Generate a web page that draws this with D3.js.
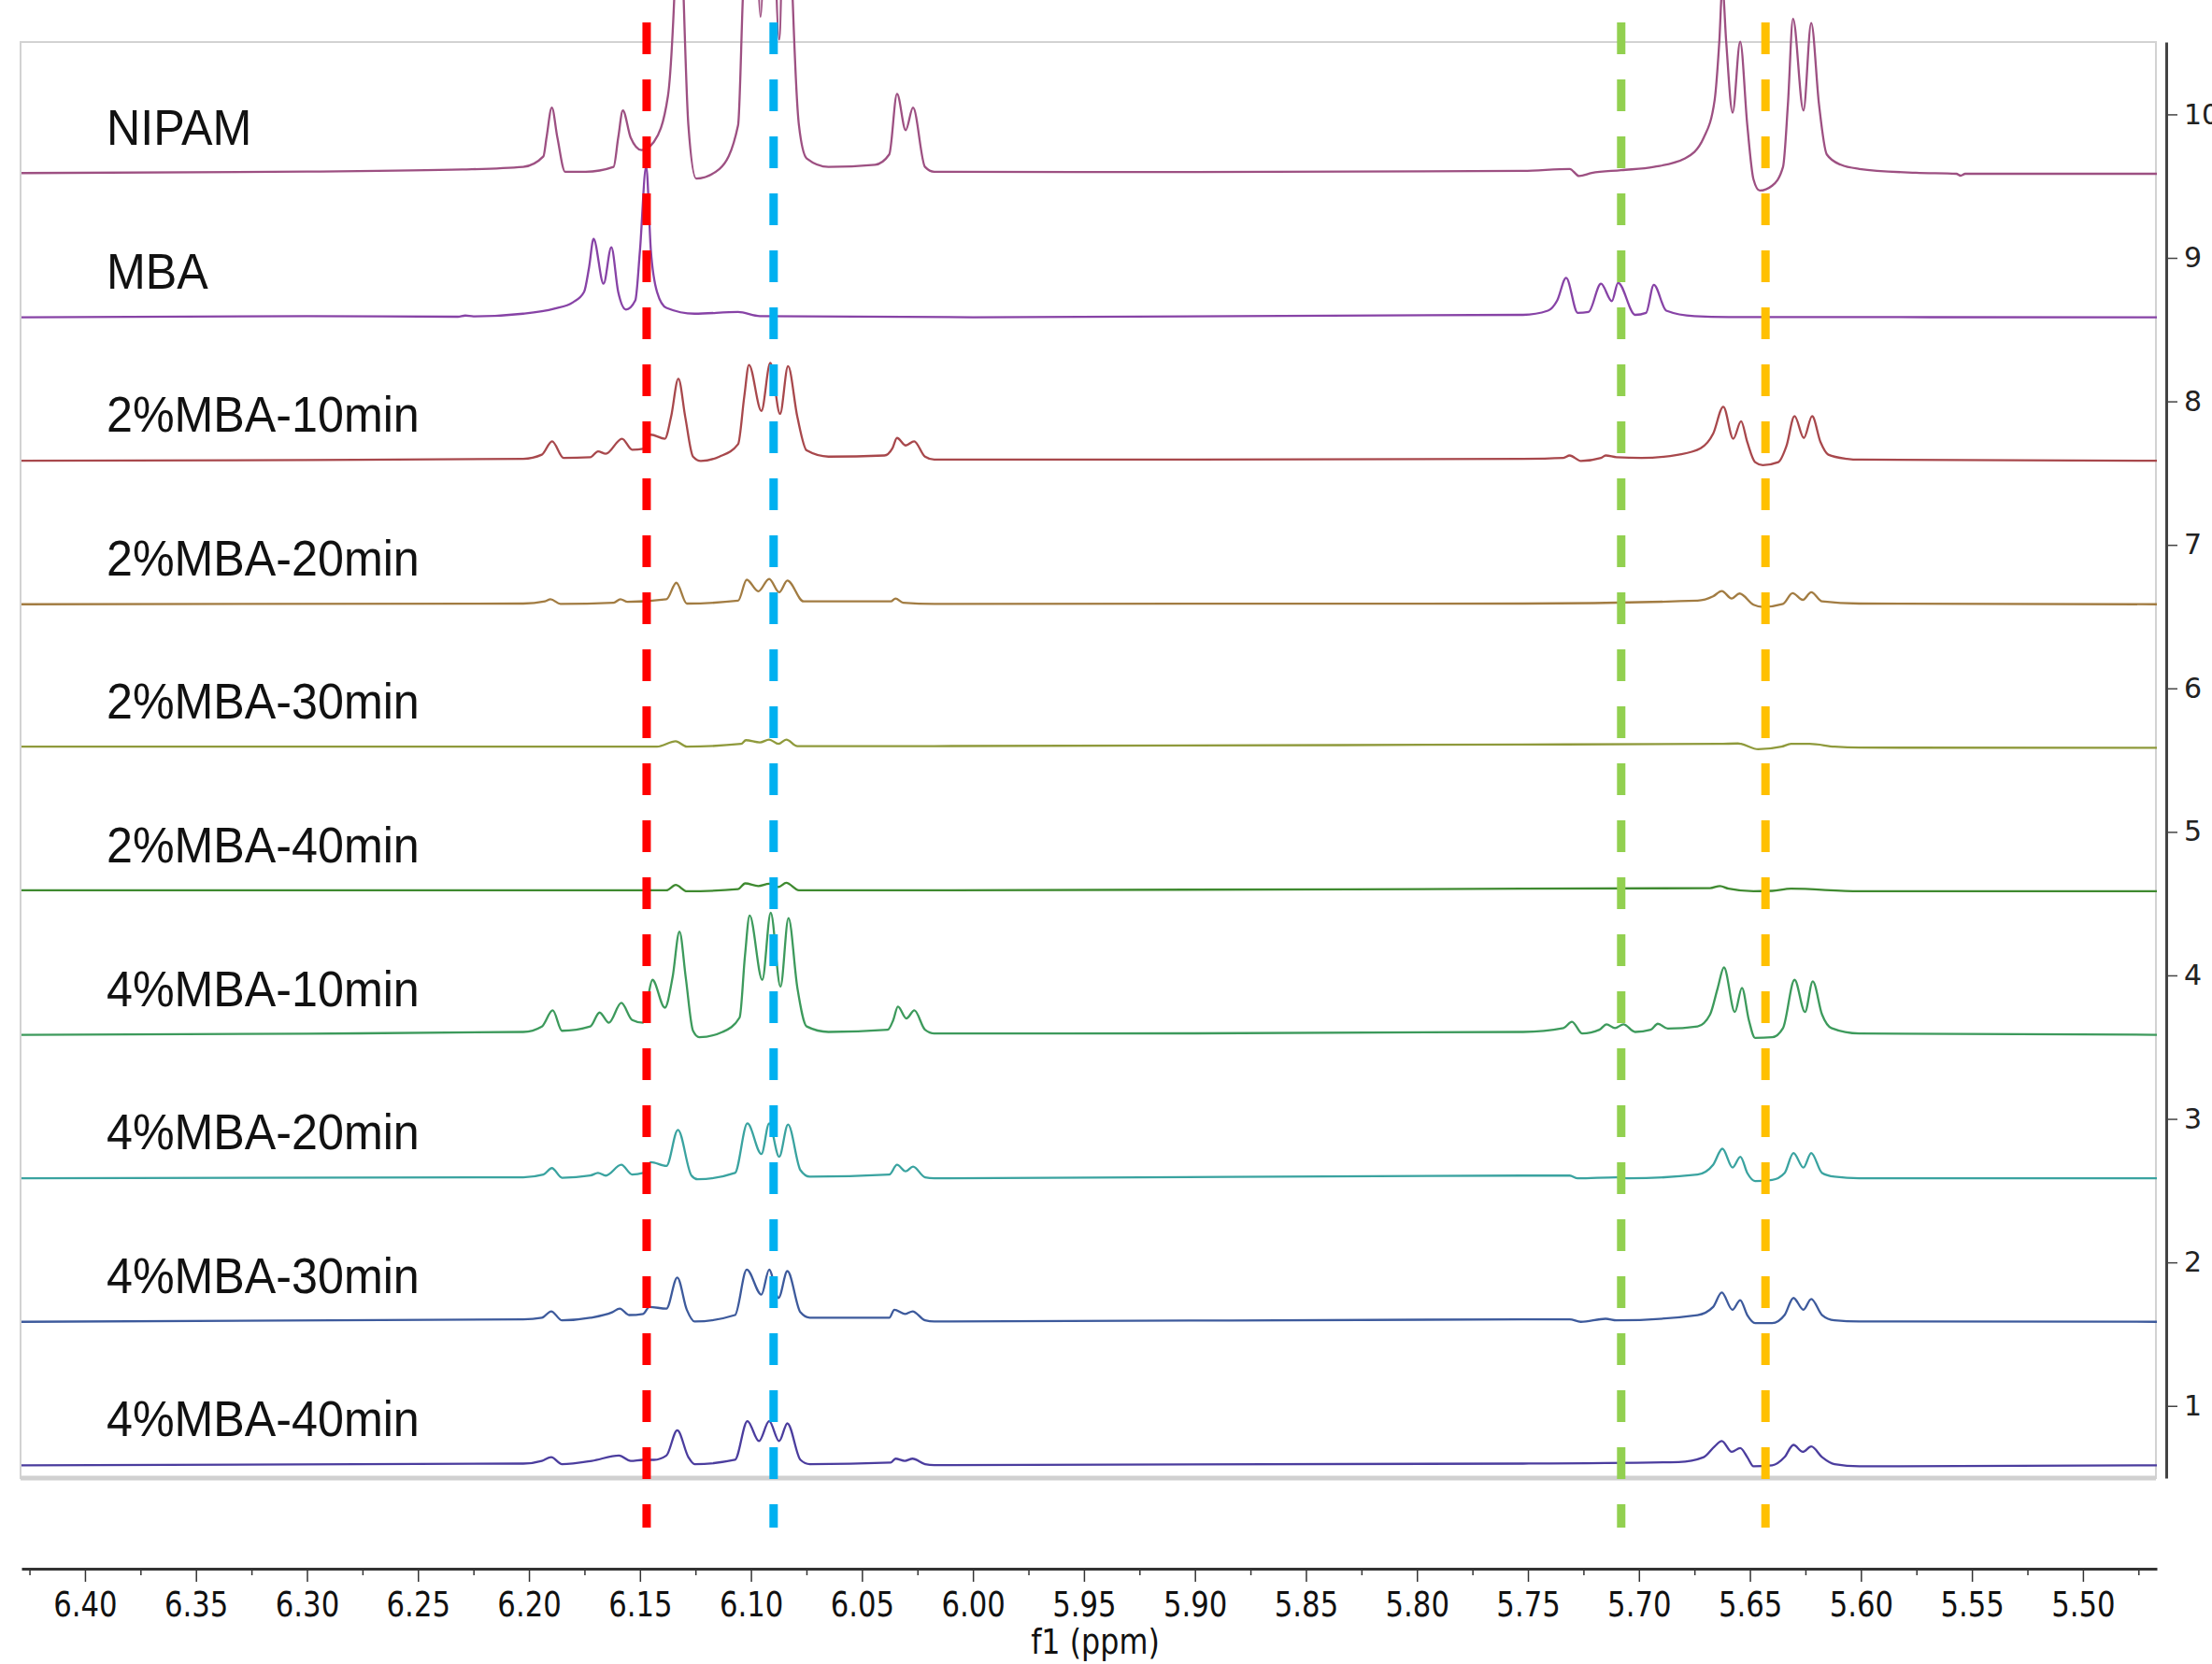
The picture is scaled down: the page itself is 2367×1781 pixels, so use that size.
<!DOCTYPE html>
<html>
<head>
<meta charset="utf-8">
<script src="https://cdn.jsdelivr.net/npm/d3@7"></script>
<style>
  body { margin: 0; background: #fff; }
  svg { display: block; }
</style>
</head>
<body>
<svg width="2367" height="1781"></svg>
<script>
// stacked 1H NMR spectra, values as [ppm, intensity]
const labels = ['NIPAM', 'MBA', '2%MBA-10min', '2%MBA-20min', '2%MBA-30min', '2%MBA-40min',
  '4%MBA-10min', '4%MBA-20min', '4%MBA-30min', '4%MBA-40min']
const offsets = [9.586, 8.586, 7.586, 6.586, 5.586, 4.586, 3.586, 2.586, 1.586, 0.586]
const colors = ['#9d5082', '#8743a6', '#a8484c', '#a27c42', '#8f9a3c', '#3f8a30',
  '#3d9a5c', '#3aa3a0', '#3d5a9c', '#4b3d9e']

const nipam = [[6.4286,0.005],[6.30,0.015],[6.23,0.03],[6.2026,0.048],[6.1935,0.121],[6.1921,0.252],[6.1897,0.461],
  [6.1872,0.252],[6.1837,0.014],[6.1745,0.014],[6.1619,0.048],[6.1598,0.252],[6.1577,0.441],[6.1542,0.252],
  [6.1493,0.165],[6.1437,0.223],[6.1374,0.542],[6.1353,0.978],[6.1346,1.211],[6.1325,2.51],[6.1303,1.211],
  [6.1282,0.339],[6.1247,-0.033],[6.1142,0.034],[6.1058,0.339],[6.1037,1.211],[6.0995,2.84],[6.0957,1.094],
  [6.0918,2.84],[6.0873,0.935],[6.0841,2.84],[6.0812,1.211],[6.0784,0.339],[6.0749,0.107],[6.0651,0.048],
  [6.0441,0.063],[6.0377,0.135],[6.0342,0.557],[6.0303,0.304],[6.0270,0.461],[6.0216,0.048],[6.0174,0.014],
  [5.90,0.012],[5.7522,0.020],[5.7312,0.034],[5.7269,-0.016],[5.7213,0.005],[5.7080,0.025],[5.6933,0.048],
  [5.6792,0.107],[5.6708,0.252],[5.6659,0.514],[5.6638,0.921],[5.6624,1.309],[5.6607,0.921],[5.6578,0.426],
  [5.6544,0.921],[5.6512,0.339],[5.6484,-0.039],[5.6456,-0.117],[5.6400,-0.083],[5.6351,0.048],[5.6329,0.484],
  [5.6306,1.080],[5.6259,0.441],[5.6224,1.051],[5.6189,0.484],[5.6154,0.135],[5.6091,0.063],[5.6007,0.034],
  [5.5753,0.007],[5.5570,0.0],[5.5551,-0.013],[5.5530,0.0],[5.4667,0.0]]

const mba = [[6.4286,0.0],[6.30,0.008],[6.232,0.004],[6.2287,0.012],[6.225,0.006],[6.2026,0.025],[6.1886,0.060],
  [6.1802,0.104],[6.1752,0.176],[6.1729,0.351],[6.1709,0.546],[6.1664,0.234],[6.1629,0.488],[6.1598,0.176],
  [6.1563,0.054],[6.1521,0.118],[6.1500,0.467],[6.1472,1.052],[6.1451,0.467],[6.1423,0.176],[6.1381,0.066],
  [6.1254,0.025],[6.1058,0.037],[6.0960,0.008],[6.0,0.0],[5.7522,0.017],[5.7410,0.046],[5.7368,0.118],
  [5.7328,0.275],[5.7276,0.031],[5.7227,0.037],[5.7171,0.234],[5.7122,0.113],[5.7094,0.240],[5.7017,0.017],
  [5.6968,0.031],[5.6933,0.226],[5.6877,0.046],[5.6750,0.008],[5.6596,0.002],[5.4667,0.0]]

const mba2_10 = [[6.4286,0.0],[6.30,0.005],[6.2026,0.014],[6.1942,0.043],[6.1896,0.136],[6.1844,0.020],[6.1724,0.025],
  [6.1689,0.066],[6.1654,0.049],[6.1581,0.154],[6.1535,0.077],[6.1486,0.083],[6.1451,0.182],[6.1388,0.154],
  [6.1360,0.305],[6.1327,0.572],[6.1296,0.305],[6.1261,0.029],[6.1226,-0.001],[6.1142,0.029],[6.1058,0.116],
  [6.1030,0.450],[6.1009,0.668],[6.0953,0.348],[6.0913,0.682],[6.0869,0.327],[6.0833,0.659],[6.0791,0.305],
  [6.0749,0.072],[6.0651,0.029],[6.0399,0.037],[6.0363,0.087],[6.0342,0.159],[6.0303,0.107],[6.0265,0.136],
  [6.0216,0.029],[6.0174,0.008],[5.90,0.008],[5.7522,0.014],[5.7340,0.020],[5.7312,0.037],[5.7262,-0.001],
  [5.7171,0.020],[5.7150,0.037],[5.7101,0.025],[5.6989,0.020],[5.6821,0.043],[5.6722,0.087],[5.6666,0.188],
  [5.6620,0.377],[5.6575,0.154],[5.6540,0.275],[5.6512,0.130],[5.6477,-0.009],[5.6442,-0.030],[5.6372,-0.009],
  [5.6336,0.101],[5.6299,0.311],[5.6257,0.159],[5.6220,0.311],[5.6182,0.130],[5.6147,0.043],[5.6063,0.014],
  [5.6007,0.008],[5.4667,0.0]]

const mba2_20 = [[6.4286,0.0],[6.2026,0.005],[6.1928,0.020],[6.1903,0.035],[6.1858,0.003],[6.1619,0.011],[6.1588,0.035],
  [6.1556,0.017],[6.1381,0.035],[6.1336,0.150],[6.1289,0.005],[6.1058,0.025],[6.1019,0.171],[6.0967,0.090],
  [6.0918,0.177],[6.0873,0.084],[6.0836,0.165],[6.0763,0.020],[6.0370,0.020],[6.0349,0.040],[6.0314,0.011],
  [6.0174,0.003],[5.7522,0.005],[5.6736,0.025],[5.6666,0.055],[5.6627,0.092],[5.6582,0.040],[5.6547,0.075],
  [5.6484,-0.003],[5.6442,-0.018],[5.6351,0.003],[5.6308,0.078],[5.6262,0.031],[5.6224,0.084],[5.6175,0.020],
  [5.6007,0.005],[5.4667,0.0]]

const mba2_30 = [[6.4286,0.008],[6.1423,0.008],[6.1339,0.046],[6.1289,0.008],[6.1044,0.027],[6.1023,0.053],
  [6.0960,0.038],[6.0918,0.057],[6.0876,0.027],[6.0841,0.057],[6.0791,0.012],[6.0174,0.012],[5.7522,0.023],
  [5.6638,0.027],[5.6554,0.030],[5.6540,0.027],[5.6463,-0.010],[5.6358,0.008],[5.6315,0.027],[5.6231,0.027],
  [5.6119,0.008],[5.6007,0.001],[5.4667,0.0]]

const mba2_40 = [[6.4286,0.007],[6.1381,0.007],[6.1339,0.044],[6.1289,0.0],[6.1058,0.015],[6.1026,0.055],
  [6.0967,0.037],[6.0918,0.052],[6.0876,0.030],[6.0841,0.059],[6.0784,0.007],[6.0174,0.007],[5.7522,0.018],
  [5.6680,0.022],[5.6635,0.037],[5.6596,0.018],[5.6484,0.0],[5.6400,0.003],[5.6315,0.018],[5.6007,0.0],[5.4667,0.0]]

const mba4_10 = [[6.4286,0.0],[6.30,0.008],[6.2026,0.020],[6.1942,0.058],[6.1893,0.170],[6.1851,0.028],[6.1724,0.058],
  [6.1682,0.155],[6.1640,0.084],[6.1584,0.222],[6.1535,0.103],[6.1486,0.084],[6.1465,0.252],[6.1444,0.383],
  [6.1388,0.189],[6.1353,0.402],[6.1322,0.719],[6.1294,0.402],[6.1261,0.028],[6.1233,-0.017],[6.1128,0.020],
  [6.1051,0.121],[6.1027,0.551],[6.1006,0.831],[6.0949,0.383],[6.0911,0.850],[6.0867,0.335],[6.0831,0.813],
  [6.0791,0.327],[6.0749,0.058],[6.0651,0.020],[6.0384,0.035],[6.0359,0.103],[6.0338,0.196],[6.0300,0.114],
  [6.0264,0.170],[6.0216,0.035],[6.0174,0.009],[5.90,0.010],[5.7522,0.020],[5.7340,0.047],[5.7302,0.091],
  [5.7255,0.009],[5.7178,0.035],[5.7146,0.073],[5.7108,0.047],[5.7070,0.073],[5.7017,0.020],[5.6947,0.035],
  [5.6915,0.077],[5.6870,0.043],[5.6736,0.058],[5.6680,0.140],[5.6645,0.327],[5.6617,0.469],[5.6568,0.159],
  [5.6536,0.327],[5.6505,0.103],[5.6477,-0.021],[5.6400,-0.017],[5.6351,0.047],[5.6299,0.383],[5.6252,0.159],
  [5.6217,0.372],[5.6175,0.140],[5.6133,0.047],[5.6007,0.009],[5.4667,0.0]]

const mba4_20 = [[6.4286,0.0],[6.2026,0.007],[6.1935,0.026],[6.1897,0.071],[6.1851,0.004],[6.1724,0.019],[6.1689,0.037],
  [6.1654,0.019],[6.1584,0.094],[6.1535,0.026],[6.1486,0.037],[6.1451,0.112],[6.1381,0.086],[6.1329,0.337],
  [6.1268,0.019],[6.1240,-0.007],[6.1072,0.037],[6.1016,0.382],[6.0953,0.169],[6.0918,0.382],[6.0873,0.150],
  [6.0833,0.374],[6.0777,0.056],[6.0735,0.011],[6.0377,0.026],[6.0342,0.094],[6.0303,0.049],[6.0270,0.082],
  [6.0216,0.007],[6.0174,0.0],[5.7522,0.019],[5.7312,0.019],[5.7276,0.0],[5.7101,0.007],[5.7045,0.0],
  [5.6736,0.026],[5.6666,0.094],[5.6624,0.206],[5.6578,0.075],[5.6543,0.150],[5.6512,0.037],[5.6477,-0.019],
  [5.6400,-0.011],[5.6344,0.037],[5.6304,0.176],[5.6259,0.075],[5.6224,0.176],[5.6175,0.037],[5.6119,0.011],
  [5.6007,0.0],[5.4667,0.0]]

const mba4_30 = [[6.4286,0.0],[6.2026,0.017],[6.1942,0.028],[6.1900,0.073],[6.1851,0.010],[6.1724,0.028],[6.1626,0.066],
  [6.1591,0.092],[6.1549,0.047],[6.1486,0.055],[6.1458,0.103],[6.1381,0.092],[6.1332,0.309],[6.1289,0.084],
  [6.1254,0.002],[6.1072,0.047],[6.1019,0.364],[6.0953,0.189],[6.0918,0.364],[6.0876,0.166],[6.0836,0.353],
  [6.0777,0.066],[6.0735,0.028],[6.0377,0.028],[6.0354,0.084],[6.0307,0.055],[6.0272,0.073],[6.0216,0.010],
  [6.0174,0.002],[5.7522,0.017],[5.7312,0.017],[5.7262,0.0],[5.7150,0.021],[5.7101,0.010],[5.6736,0.047],
  [5.6666,0.103],[5.6627,0.204],[5.6579,0.084],[5.6544,0.151],[5.6512,0.047],[5.6477,-0.009],[5.6400,-0.009],
  [5.6344,0.047],[5.6304,0.166],[5.6259,0.084],[5.6224,0.159],[5.6175,0.047],[5.6119,0.010],[5.6007,0.002],
  [5.4667,0.0]]

const mba4_40 = [[6.4286,0.0],[6.2026,0.012],[6.1942,0.031],[6.1900,0.057],[6.1851,0.008],[6.1717,0.031],[6.1594,0.068],
  [6.1542,0.031],[6.1486,0.038],[6.1437,0.038],[6.1381,0.068],[6.1332,0.244],[6.1282,0.057],[6.1254,0.008],
  [6.1072,0.038],[6.1016,0.307],[6.0964,0.169],[6.0918,0.307],[6.0873,0.169],[6.0836,0.292],[6.0777,0.038],
  [6.0735,0.008],[6.0370,0.019],[6.0349,0.046],[6.0307,0.031],[6.0272,0.046],[6.0216,0.008],[6.0174,0.001],
  [5.7522,0.012],[5.6821,0.023],[5.6708,0.057],[5.6659,0.132],[5.6627,0.169],[5.6582,0.094],[5.6544,0.120],
  [5.6512,0.057],[5.6484,-0.007],[5.6400,0.0],[5.6344,0.057],[5.6304,0.142],[5.6262,0.094],[5.6224,0.131],
  [5.6175,0.057],[5.6119,0.008],[5.6007,-0.007],[5.4667,0.0]]

const series = [nipam, mba, mba2_10, mba2_20, mba2_30, mba2_40, mba4_10, mba4_20, mba4_30, mba4_40]

// dashed guide lines (ppm)
const markers = [6.147, 6.0898, 5.708, 5.643]
const markerColors = ['#ff0000', '#00b0f0', '#92d050', '#ffc000']

const xTickValues = [6.40, 6.35, 6.30, 6.25, 6.20, 6.15, 6.10, 6.05, 6.00, 5.95, 5.90, 5.85, 5.80,
  5.75, 5.70, 5.65, 5.60, 5.55, 5.50]
const xMinorValues = [6.425, 6.375, 6.325, 6.275, 6.225, 6.175, 6.125, 6.075, 6.025, 5.975, 5.925,
  5.875, 5.825, 5.775, 5.725, 5.675, 5.625, 5.575, 5.525, 5.475]
const yTickValues = [1, 2, 3, 4, 5, 6, 7, 8, 9, 10]

const svg = d3.select('svg')
const x = d3.scaleLinear().domain([6.4286, 5.4667]).range([23, 2308])
const y = d3.scaleLinear().domain([0.497, 10.504]).range([1582, 45])

// plot frame
svg.append('rect')
  .attr('x', 22).attr('y', 45)
  .attr('width', 2285).attr('height', 1537)
  .attr('fill', 'none')
  .attr('stroke', '#d2d2d2')
  .attr('stroke-width', 2)
svg.append('line')
  .attr('x1', 22).attr('x2', 2307)
  .attr('y1', 1582).attr('y2', 1582)
  .attr('stroke', '#d0d0d0')
  .attr('stroke-width', 5)

//#region spectra
const spectra = svg.append('g')
series.forEach((pts, i) => {
  const line = d3.line()
    .x(d => x(d[0]))
    .y(d => y(offsets[i] + d[1]))
    .curve(d3.curveMonotoneX)
  spectra.append('path')
    .datum(pts)
    .attr('d', line)
    .attr('fill', 'none')
    .attr('stroke', colors[i])
    .attr('stroke-width', 2.3)
    .attr('stroke-linejoin', 'round')
})

svg.append('g')
  .selectAll('text')
  .data(labels)
  .join('text')
  .attr('transform', (d, i) => `translate(114, ${y(offsets[i]) - 31}) scale(0.93, 1)`)
  .attr('font-family', '"Liberation Sans", Arial, sans-serif')
  .attr('font-size', '54px')
  .attr('fill', '#111')
  .text(d => d)
//#endregion

// dashed markers on top
svg.append('g')
  .selectAll('line')
  .data(markers)
  .join('line')
  .attr('x1', d => x(d)).attr('x2', d => x(d))
  .attr('y1', 24).attr('y2', 1635)
  .attr('stroke', (d, i) => markerColors[i])
  .attr('stroke-width', 9)
  .attr('stroke-dasharray', '34 27')

//#region axes
const xAxis = d3.axisBottom(x)
  .tickValues(xTickValues)
  .tickFormat(d3.format('.2f'))
  .tickSize(14)
  .tickSizeOuter(0)
  .tickPadding(11)

const gx = svg.append('g')
  .attr('transform', 'translate(0,1679)')
  .style('color', '#333')
  .call(xAxis)
gx.select('.domain').attr('stroke-width', 3)
gx.selectAll('.tick line').attr('stroke-width', 1.5)
gx.selectAll('text')
  .attr('font-family', '"DejaVu Sans", Verdana, sans-serif')
  .attr('font-size', '37px')
  .attr('fill', '#111')
  .attr('transform', 'scale(0.83, 1)')

const gxMinor = svg.append('g')
  .attr('transform', 'translate(0,1679)')
  .style('color', '#333')
  .call(d3.axisBottom(x).tickValues(xMinorValues).tickFormat('').tickSize(7).tickSizeOuter(0))
gxMinor.select('.domain').remove()
gxMinor.selectAll('.tick line').attr('stroke-width', 1.5)

svg.append('text')
  .attr('transform', 'translate(1172, 1770) scale(0.86, 1)')
  .attr('text-anchor', 'middle')
  .attr('font-family', '"DejaVu Sans", Verdana, sans-serif')
  .attr('font-size', '37px')
  .attr('fill', '#111')
  .text('f1 (ppm)')

const yAxis = d3.axisRight(y)
  .tickValues(yTickValues)
  .tickSize(12)
  .tickSizeOuter(0)
  .tickPadding(7)

const gy = svg.append('g')
  .attr('transform', 'translate(2318,0)')
  .style('color', '#444')
  .call(yAxis)
gy.select('.domain').attr('stroke-width', 3)
gy.selectAll('.tick line').attr('stroke-width', 1.5)
gy.selectAll('text')
  .attr('font-family', '"DejaVu Sans", Verdana, sans-serif')
  .attr('font-size', '30px')
  .attr('fill', '#222')
//#endregion
</script>
</body>
</html>
